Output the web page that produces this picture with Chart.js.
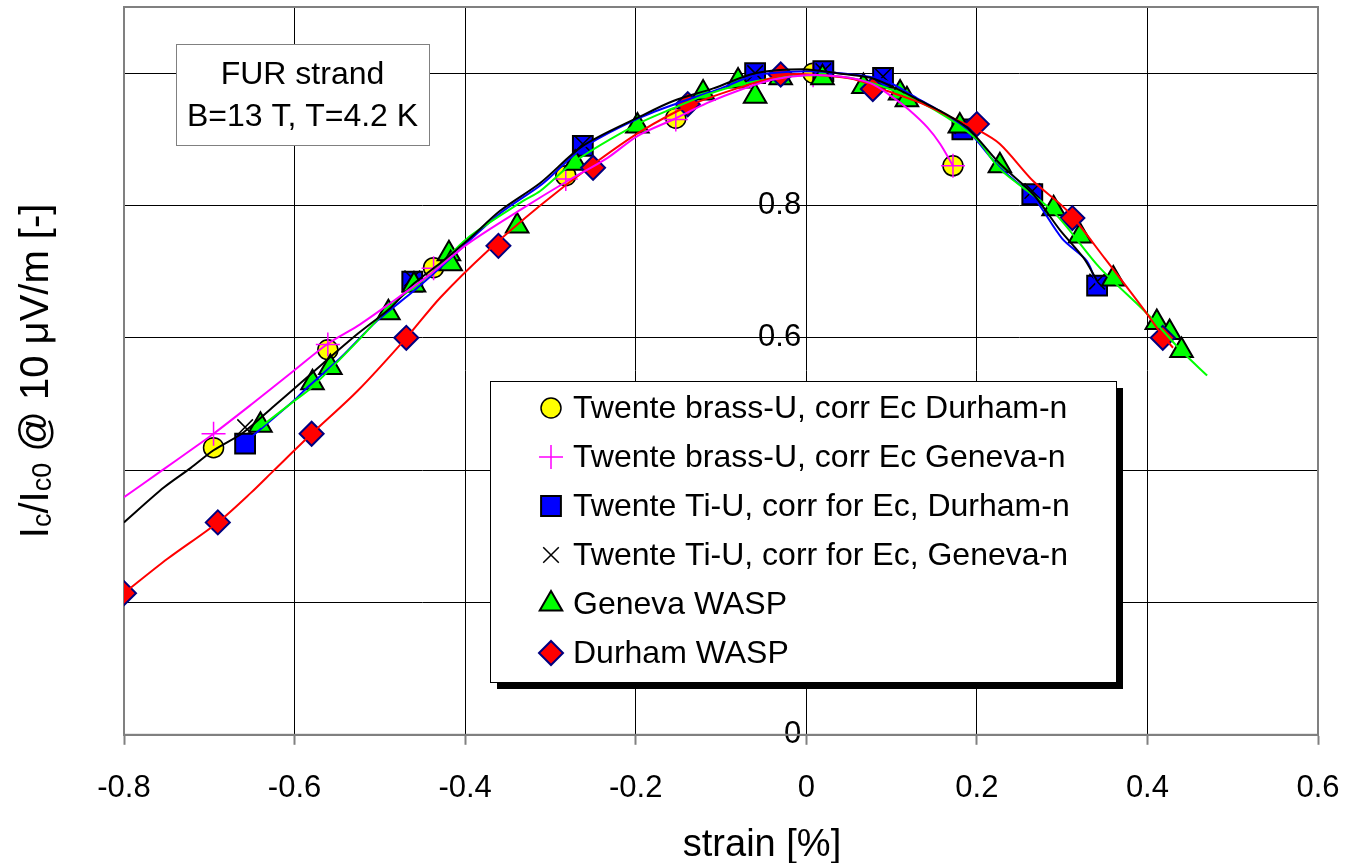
<!DOCTYPE html>
<html>
<head>
<meta charset="utf-8">
<title>FUR strand - Ic vs strain</title>
<script src="https://cdn.jsdelivr.net/npm/chart.js@4.4.1/dist/chart.umd.min.js"></script>
<style>
  html, body { margin: 0; padding: 0; background: #fff; }
  #wrap { width: 1346px; height: 863px; }
</style>
</head>
<body>
<div id="wrap"><canvas id="strain-chart" width="1346" height="863"></canvas></div>
<script>
// measured points (strain %, normalised Ic)
const brassX = [-0.695, -0.561, -0.437, -0.282, -0.153, 0.008, 0.172];
const brassDurY = [0.434, 0.582, 0.706, 0.845, 0.932, 1.0, 0.86];
const brassGenY = [0.455, 0.59, 0.705, 0.84, 0.93, 0.997, 0.86];

const tiX = [-0.658, -0.462, -0.262, -0.06, 0.02, 0.09, 0.183, 0.265, 0.341];
const tiDurY = [0.44, 0.685, 0.89, 1.0, 1.003, 0.993, 0.915, 0.817, 0.679];
const tiGenY = [0.465, 0.69, 0.893, 1.0, 1.003, 0.995, 0.92, 0.822, 0.685];

const genX = [-0.64, -0.579, -0.558, -0.49, -0.46, -0.419, -0.417, -0.339, -0.271, -0.198, -0.121, -0.08, -0.06,
              -0.03, 0.019, 0.067, 0.11, 0.118, 0.18, 0.227, 0.29, 0.321, 0.36, 0.411, 0.426, 0.44];
const genY = [0.468, 0.532, 0.555, 0.638, 0.68, 0.727, 0.712, 0.769, 0.864, 0.92, 0.97, 0.988, 0.965,
              0.993, 0.993, 0.98, 0.97, 0.96, 0.92, 0.86, 0.795, 0.754, 0.689, 0.623, 0.608, 0.581];

const durX = [-0.8, -0.69, -0.58, -0.469, -0.361, -0.25, -0.139, -0.03, 0.078, 0.2, 0.312, 0.418];
const durY = [0.214, 0.321, 0.455, 0.6, 0.739, 0.857, 0.953, 0.998, 0.976, 0.923, 0.781, 0.6];

// fitted curves
const fitBrassGenX = [-0.8, -0.755, -0.722, -0.695, -0.65, -0.605, -0.561, -0.526, -0.487, -0.44, -0.397, -0.332, -0.28,
                      -0.233, -0.198, -0.156, -0.116, -0.077, -0.04, 0.0, 0.04, 0.075, 0.1, 0.12, 0.142, 0.157, 0.172];
const fitBrassGenY = [0.359, 0.4, 0.43, 0.455, 0.5, 0.546, 0.591, 0.618, 0.653, 0.697, 0.742, 0.796, 0.837,
                      0.872, 0.905, 0.93, 0.955, 0.975, 0.99, 0.997, 0.995, 0.985, 0.965, 0.945, 0.918, 0.893, 0.86];

const fitTiGenX = [-0.8, -0.753, -0.722, -0.695, -0.66, -0.624, -0.605, -0.566, -0.526, -0.487, -0.46, -0.429, -0.394,
                   -0.359, -0.312, -0.262, -0.194, -0.156, -0.109, -0.06, -0.004, 0.036, 0.075, 0.107, 0.134, 0.157,
                   0.189, 0.227, 0.266, 0.298, 0.325, 0.341];
const fitTiGenY = [0.321, 0.374, 0.403, 0.43, 0.457, 0.497, 0.518, 0.562, 0.606, 0.646, 0.682, 0.713, 0.751,
                   0.792, 0.834, 0.89, 0.935, 0.958, 0.977, 1.0, 1.006, 1.0, 0.993, 0.976, 0.958, 0.943,
                   0.917, 0.863, 0.817, 0.762, 0.721, 0.686];

const fitTiDurX = [-0.66, -0.601, -0.585, -0.546, -0.503, -0.46, -0.43, -0.36, -0.31, -0.262, -0.2, -0.15, -0.1,
                   -0.06, 0.0, 0.04, 0.09, 0.13, 0.16, 0.19, 0.227, 0.266, 0.3, 0.329, 0.341];
const fitTiDurY = [0.44, 0.505, 0.525, 0.57, 0.626, 0.671, 0.705, 0.787, 0.832, 0.887, 0.93, 0.955, 0.977,
                   0.997, 1.003, 1.0, 0.99, 0.962, 0.94, 0.912, 0.857, 0.813, 0.75, 0.716, 0.679];

const fitGenX = [-0.64, -0.6, -0.58, -0.526, -0.487, -0.44, -0.397, -0.332, -0.312, -0.271, -0.198, -0.156, -0.116,
                 -0.077, -0.04, 0.0, 0.05, 0.1, 0.15, 0.2, 0.227, 0.29, 0.344, 0.4, 0.44, 0.47];
const fitGenY = [0.465, 0.505, 0.525, 0.595, 0.649, 0.697, 0.751, 0.807, 0.822, 0.867, 0.923, 0.947, 0.968,
                 0.983, 0.992, 0.997, 0.993, 0.975, 0.945, 0.9, 0.855, 0.79, 0.706, 0.636, 0.58, 0.543];

const fitDurX = [-0.8, -0.749, -0.69, -0.651, -0.624, -0.58, -0.526, -0.469, -0.429, -0.374, -0.312, -0.25, -0.194,
                 -0.139, -0.081, -0.022, 0.016, 0.055, 0.095, 0.134, 0.172, 0.2, 0.227, 0.266, 0.306, 0.35,
                 0.395, 0.418, 0.43];
const fitDurY = [0.214, 0.266, 0.321, 0.366, 0.4, 0.455, 0.52, 0.6, 0.661, 0.731, 0.8, 0.862, 0.912,
                 0.95, 0.977, 0.998, 0.997, 0.991, 0.973, 0.955, 0.932, 0.915, 0.893, 0.837, 0.792, 0.72,
                 0.644, 0.603, 0.585];

const legendNames = [
    'Twente brass-U, corr Ec Durham-n',
    'Twente brass-U, corr Ec Geneva-n',
    'Twente Ti-U, corr for Ec, Durham-n',
    'Twente Ti-U, corr for Ec, Geneva-n',
    'Geneva WASP',
    'Durham WASP'
];
const boxLines = ['FUR strand', 'B=13 T, T=4.2 K'];

const FONT = '"Liberation Sans", Arial, sans-serif';
Chart.defaults.font.family = FONT;
Chart.defaults.color = '#000';

function toPoints(xs, ys) {
    return xs.map((x, i) => ({ x: x, y: ys[i] }));
}

function fitLine(xs, ys, color) {
    return {
        data: toPoints(xs, ys),
        showLine: true,
        borderColor: color,
        borderWidth: 2,
        pointRadius: 0,
        pointHoverRadius: 0,
        tension: 0.3,
        order: 0
    };
}

function markers(label, xs, ys, style, radius, fill, edge, edgeWidth, order) {
    return {
        label: label,
        data: toPoints(xs, ys),
        showLine: false,
        pointStyle: style,
        pointRadius: radius,
        pointHoverRadius: radius,
        pointBackgroundColor: fill,
        pointBorderColor: edge,
        pointBorderWidth: edgeWidth,
        order: order
    };
}

const datasets = [
    fitLine(fitBrassGenX, fitBrassGenY, '#ff00ff'),
    fitLine(fitTiGenX, fitTiGenY, '#000000'),
    fitLine(fitDurX, fitDurY, '#ff0000'),
    fitLine(fitGenX, fitGenY, '#00ff00'),
    fitLine(fitTiDurX, fitTiDurY, '#0000ff'),
    // legend order; "order" keeps the later series on top like the original
    markers(legendNames[0], brassX, brassDurY, 'circle', 10, '#ffff00', '#000000', 1.5, 6),
    markers(legendNames[1], brassX, brassGenY, 'cross', 12, 'rgba(0,0,0,0)', '#ff00ff', 1.5, 5),
    markers(legendNames[2], tiX, tiDurY, 'rect', 14, '#0000ff', '#000000', 2, 4),
    markers(legendNames[3], tiX, tiGenY, 'crossRot', 11, 'rgba(0,0,0,0)', '#000000', 1.5, 3),
    markers(legendNames[4], genX, genY, 'triangle', 13, '#00ff00', '#000000', 2, 2),
    markers(legendNames[5], durX, durY, 'rectRot', 12, '#ff0000', '#000080', 2, 1)
];

function tickText(value) {
    // avoid "-0.0" from floating point steps
    return String(Math.round(value * 10) / 10);
}

// grey frame round the plot area
const framePlugin = {
    id: 'plotFrame',
    beforeDatasetsDraw(chart) {
        const { ctx, chartArea: a } = chart;
        ctx.save();
        ctx.strokeStyle = '#808080';
        ctx.lineWidth = 2;
        ctx.strokeRect(a.left, a.top, a.right - a.left, a.bottom - a.top);
        ctx.restore();
    }
};

// "FUR strand" note and the boxed legend with its shadow
const boxesPlugin = {
    id: 'boxes',
    afterDatasetsDraw(chart) {
        const ctx = chart.ctx;
        ctx.save();

        // note box
        ctx.fillStyle = '#fff';
        ctx.fillRect(176, 44, 253, 101);
        ctx.strokeStyle = '#808080';
        ctx.lineWidth = 1;
        ctx.strokeRect(176.5, 44.5, 253, 101);
        ctx.fillStyle = '#000';
        ctx.font = '32px ' + FONT;
        ctx.textAlign = 'center';
        ctx.textBaseline = 'middle';
        ctx.fillText(boxLines[0], 302.5, 75);
        ctx.fillText(boxLines[1], 302.5, 117);

        // legend
        const lg = { left: 490, top: 381, width: 626, height: 301, shadow: 7 };
        ctx.fillStyle = '#000';
        ctx.fillRect(lg.left + lg.shadow, lg.top + lg.shadow, lg.width, lg.height);
        ctx.fillStyle = '#fff';
        ctx.fillRect(lg.left, lg.top, lg.width, lg.height);
        ctx.strokeStyle = '#000';
        ctx.strokeRect(lg.left + 0.5, lg.top + 0.5, lg.width, lg.height);

        const rows = chart.data.datasets.filter(d => d.label);
        rows.forEach((d, i) => {
            const y = lg.top + 27 + i * 49;
            ctx.fillStyle = d.pointBackgroundColor;
            ctx.strokeStyle = d.pointBorderColor;
            ctx.lineWidth = d.pointBorderWidth;
            Chart.helpers.drawPoint(ctx, {
                pointStyle: d.pointStyle,
                radius: d.pointRadius,
                borderWidth: d.pointBorderWidth,
                rotation: 0
            }, lg.left + 61, y);
            ctx.fillStyle = '#000';
            ctx.font = '32px ' + FONT;
            ctx.textAlign = 'left';
            ctx.textBaseline = 'middle';
            ctx.fillText(d.label, lg.left + 83, y + 1);
        });
        ctx.restore();
    }
};

// axis titles; the y title needs subscripts so it is set piece by piece
const yTitleParts = [['I', 0], ['c', 1], ['/I', 0], ['c0', 1], [' @ 10 \u03bcV/m [-]', 0]];
const xTitle = 'strain [%]';

const titlesPlugin = {
    id: 'axisTitles',
    afterDraw(chart) {
        const ctx = chart.ctx;
        const a = chart.chartArea;
        ctx.save();
        ctx.fillStyle = '#000';
        ctx.textBaseline = 'alphabetic';
        ctx.textAlign = 'left';

        ctx.font = '38px ' + FONT;
        const xw = ctx.measureText(xTitle).width;
        ctx.fillText(xTitle, 762 - xw / 2, 856);

        const big = '40px ' + FONT;
        const small = '27px ' + FONT;
        let total = 0;
        yTitleParts.forEach(p => {
            ctx.font = p[1] ? small : big;
            total += ctx.measureText(p[0]).width;
        });
        ctx.translate(48, (a.top + a.bottom) / 2);
        ctx.rotate(-Math.PI / 2);
        let pos = -total / 2;
        yTitleParts.forEach(p => {
            ctx.font = p[1] ? small : big;
            ctx.fillText(p[0], pos, p[1] ? 3 : 0);
            pos += ctx.measureText(p[0]).width;
        });
        ctx.restore();
    }
};

new Chart(document.getElementById('strain-chart').getContext('2d'), {
    type: 'scatter',
    data: { datasets: datasets },
    options: {
        responsive: false,
        animation: false,
        devicePixelRatio: 1,
        layout: { autoPadding: false, padding: { left: 124, right: 28, top: 7, bottom: 31 } },
        plugins: {
            legend: { display: false },
            tooltip: { enabled: false }
        },
        scales: {
            x: {
                type: 'linear',
                min: -0.8,
                max: 0.6,
                ticks: {
                    stepSize: 0.2,
                    padding: 25,
                    font: { size: 31 },
                    color: '#000',
                    callback: tickText
                },
                grid: { color: '#000', lineWidth: 1, tickColor: '#808080', tickWidth: 2, tickLength: 10 },
                border: { display: true, color: '#808080', width: 2 },
                afterFit: function (scale) {
                    // end labels fit inside the fixed padding
                    scale.paddingLeft = 0;
                    scale.paddingRight = 0;
                }
            },
            y: {
                type: 'linear',
                min: 0,
                max: 1.1,
                // the x grid line at 0 is the visible axis; the scale itself sits a hair
                // to the left so its labels keep a small gap from that line
                position: { x: -0.006 },
                ticks: {
                    stepSize: 0.2,
                    includeBounds: false,
                    font: { size: 31 },
                    color: '#000',
                    callback: function (value) {
                        // the "1" label is hidden under the markers in the original
                        if (Math.abs(value - 1) < 1e-9) return '';
                        return tickText(value);
                    }
                },
                grid: { color: '#000', lineWidth: 1, drawTicks: false },
                border: { display: false },
                afterFit: function (scale) {
                    scale.paddingTop = 0;
                    scale.paddingBottom = 0;
                }
            }
        }
    },
    plugins: [framePlugin, boxesPlugin, titlesPlugin]
});
</script>
</body>
</html>
